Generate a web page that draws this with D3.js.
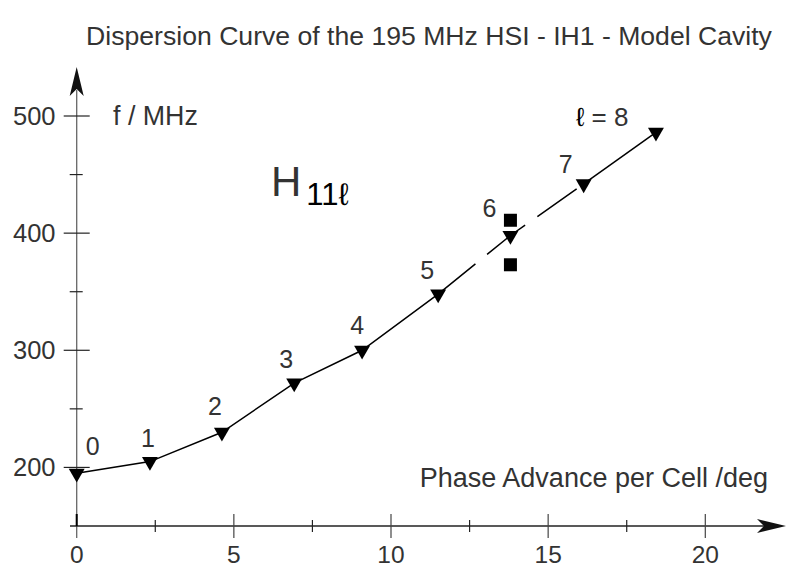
<!DOCTYPE html>
<html>
<head>
<meta charset="utf-8">
<script src="https://cdn.jsdelivr.net/npm/d3@7"></script>
<style>
  body { margin: 0; background: #fff; }
  text { font-family: "Liberation Sans", Arial, sans-serif; }
</style>
</head>
<body>
<div id="chart"></div>
<script>
// mode number, phase advance (deg), frequency (MHz)
var modes = [0, 1, 2, 3, 4, 5, 6, 7, 8];
var phase = [0, 2.33, 4.62, 6.92, 9.08, 11.5, 13.8, 16.13, 18.43];
var freq  = [195, 205, 230, 272, 300, 348, 398, 442, 486];
// extra measured points near mode 6
var sqPhase = [13.8, 13.8];
var sqFreq  = [411, 373];
var xTicks = [0, 5, 10, 15, 20];
var xMinor = [2.5, 7.5, 12.5, 17.5];
var yTicks = [200, 300, 400, 500];
var yMinor = [250, 350, 450];

var W = 786, H = 569;
var svg = d3.select("#chart").append("svg")
    .attr("width", W)
    .attr("height", H);

var x = d3.scaleLinear().domain([0, 20]).range([76.7, 705.3]);
var y = d3.scaleLinear().domain([150, 500]).range([526, 116]);

var ink = "#333";

// title
svg.append("text")
    .attr("x", 429).attr("y", 45)
    .attr("text-anchor", "middle")
    .attr("font-size", 26.6)
    .attr("fill", ink)
    .text("Dispersion Curve of the 195 MHz HSI - IH1 - Model Cavity");

// y axis line + arrow
svg.append("line")
    .attr("x1", x(0)).attr("x2", x(0))
    .attr("y1", 538).attr("y2", 90)
    .attr("stroke", "#666").attr("stroke-width", 1.3);
svg.append("path")
    .attr("d", "M" + x(0) + ",67 L" + (x(0) + 7) + ",96 L" + x(0) + ",89 L" + (x(0) - 7) + ",96 Z")
    .attr("fill", "#111");

var yg = svg.append("g");
yg.selectAll(".maj").data(yTicks).enter().append("line")
    .attr("x1", x(0) - 13).attr("x2", x(0) + 13)
    .attr("y1", function(d) { return y(d); })
    .attr("y2", function(d) { return y(d); })
    .attr("stroke", "#222").attr("stroke-width", 1.2);
yg.selectAll(".min").data(yMinor).enter().append("line")
    .attr("x1", x(0) - 7).attr("x2", x(0) + 6)
    .attr("y1", function(d) { return y(d); })
    .attr("y2", function(d) { return y(d); })
    .attr("stroke", "#222").attr("stroke-width", 1.2);
yg.selectAll("text").data(yTicks).enter().append("text")
    .attr("x", 55.5)
    .attr("y", function(d) { return y(d) + 9; })
    .attr("text-anchor", "end")
    .attr("font-size", 25.5)
    .attr("fill", ink)
    .text(function(d) { return d; });

// x axis line + arrow
var ax = y(150);
svg.append("line")
    .attr("x1", 70).attr("x2", 765)
    .attr("y1", ax).attr("y2", ax)
    .attr("stroke", "#222").attr("stroke-width", 1.3);
svg.append("path")
    .attr("d", "M786," + ax + " L757," + (ax - 7) + " L764," + ax + " L757," + (ax + 7) + " Z")
    .attr("fill", "#111");

var xg = svg.append("g");
xg.selectAll(".maj").data(xTicks).enter().append("line")
    .attr("x1", function(d) { return x(d); })
    .attr("x2", function(d) { return x(d); })
    .attr("y1", ax - 12)
    .attr("y2", function(d) { return d === 0 ? ax : ax + 12; })
    .attr("stroke", function(d) { return d === 0 ? "#000" : "#444"; })
    .attr("stroke-width", function(d) { return d === 0 ? 2 : 1.2; });
xg.selectAll(".min").data(xMinor).enter().append("line")
    .attr("x1", function(d) { return x(d); })
    .attr("x2", function(d) { return x(d); })
    .attr("y1", ax - 6).attr("y2", ax + 6)
    .attr("stroke", "#222").attr("stroke-width", 1.2);
xg.selectAll("text").data(xTicks).enter().append("text")
    .attr("x", function(d) { return x(d); })
    .attr("y", 563)
    .attr("text-anchor", "middle")
    .attr("font-size", 24.5)
    .attr("fill", ink)
    .text(function(d) { return d; });

// axis titles
svg.append("text")
    .attr("x", 113).attr("y", 125)
    .attr("font-size", 26.8).attr("fill", ink)
    .text("f / MHz");
svg.append("text")
    .attr("x", 768).attr("y", 487)
    .attr("text-anchor", "end")
    .attr("font-size", 27).attr("fill", ink)
    .text("Phase Advance per Cell /deg");

// H11l label
var hl = svg.append("text").attr("x", 271).attr("y", 196).attr("fill", ink);
hl.append("tspan").attr("font-size", 42).text("H");
hl.append("tspan").attr("font-size", 31).attr("dx", 5).attr("dy", 9)
    .attr("fill", "#000").text("11ℓ");

// curve
var pts = modes.map(function(m, i) { return [phase[i], freq[i]]; });
var line = d3.line()
    .x(function(d) { return x(d[0]); })
    .y(function(d) { return y(d[1]); });

svg.append("path")
    .attr("d", line(pts.slice(0, 6)))
    .attr("fill", "none").attr("stroke", "#000").attr("stroke-width", 1.5);
svg.append("path")
    .attr("d", line(pts.slice(5, 8)))
    .attr("fill", "none").attr("stroke", "#000").attr("stroke-width", 1.5)
    .attr("stroke-dasharray", "48,15");
svg.append("path")
    .attr("d", line(pts.slice(7, 9)))
    .attr("fill", "none").attr("stroke", "#000").attr("stroke-width", 1.5);

// squares
svg.selectAll(".sq").data(sqPhase).enter().append("rect")
    .attr("x", function(d) { return x(d) - 6.5; })
    .attr("y", function(d, i) { return y(sqFreq[i]) - 6.5; })
    .attr("width", 13).attr("height", 13)
    .attr("fill", "#000");

// triangle markers
var tri = d3.symbol().type(d3.symbolTriangle).size(110);
svg.selectAll(".tri").data(pts).enter().append("path")
    .attr("d", tri)
    .attr("transform", function(d) {
      return "translate(" + x(d[0]) + "," + y(d[1]) + ") rotate(180)";
    })
    .attr("fill", "#000");

// mode labels
var labelDx = [16, -2, -7, -8, -5, -11, -21, -18, 0];
var labelDy = [-27, -24, -26, -24, -25, -24, -27, -20, -16];
svg.selectAll(".lab").data(modes.slice(0, 8)).enter().append("text")
    .attr("x", function(d, i) { return x(phase[i]) + labelDx[i]; })
    .attr("y", function(d, i) { return y(freq[i]) + labelDy[i] + 9; })
    .attr("text-anchor", "middle")
    .attr("font-size", 25).attr("fill", ink)
    .text(function(d) { return d; });
var l8 = svg.append("text")
    .attr("x", x(phase[8]) - 80).attr("y", y(freq[8]) - 6)
    .attr("font-size", 26).attr("fill", ink);
l8.append("tspan").attr("fill", "#000").text("ℓ");
l8.append("tspan").text(" = " + modes[8]);
</script>
</body>
</html>
